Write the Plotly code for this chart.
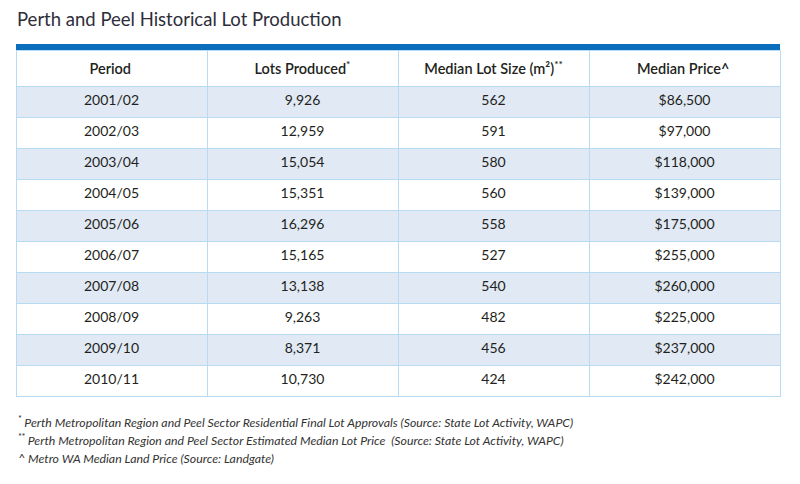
import plotly.graph_objects as go

# table data
periods = ["2001/02", "2002/03", "2003/04", "2004/05", "2005/06",
           "2006/07", "2007/08", "2008/09", "2009/10", "2010/11"]
lots_produced = [9926, 12959, 15054, 15351, 16296, 15165, 13138, 9263, 8371, 10730]
median_lot_size = [562, 591, 580, 560, 558, 527, 540, 482, 456, 424]
median_price = [86500, 97000, 118000, 139000, 175000, 255000, 260000, 225000, 237000, 242000]

# the empty <sup> keeps every header on the same baseline
headers = ["Period<sup>\u00a0</sup>", "Lots Produced<sup>*</sup>",
           "Median Lot Size (m²)<sup>**</sup>", "Median Price^<sup>\u00a0</sup>"]

footnotes = [
    "<sup>*</sup> Perth Metropolitan Region and Peel Sector Residential Final Lot Approvals (Source: State Lot Activity, WAPC)",
    "<sup>**</sup> Perth Metropolitan Region and Peel Sector Estimated Median Lot Price  (Source: State Lot Activity, WAPC)",
    "^ Metro WA Median Land Price (Source: Landgate)",
]

W, H = 800, 484
fnt = "Lato, Open Sans, sans-serif"
txt_col = "#231f20"
line_col = "#b8daf2"

row_fill = ["#e1e9f5" if i % 2 == 0 else "#ffffff" for i in range(len(periods))]

fig = go.Figure(go.Table(
    domain=dict(x=[16 / W, 780 / W], y=[1 - 400 / H, 1 - 50 / H]),
    columnwidth=[1, 1, 1, 1],
    header=dict(
        values=headers,
        fill_color="white",
        line=dict(color=line_col, width=1),
        align="center",
        height=36,
        font=dict(family=fnt, size=14.5, color=txt_col, weight=600),
    ),
    cells=dict(
        values=[
            periods,
            [f"{v:,}" for v in lots_produced],
            [str(v) for v in median_lot_size],
            [f"${v:,}" for v in median_price],
        ],
        fill_color=[row_fill] * 4,
        line=dict(color=line_col, width=1),
        align="center",
        height=31,
        font=dict(family=fnt, size=14, color=txt_col),
    ),
))

# blue band above the header
fig.add_shape(type="rect", xref="paper", yref="paper",
              x0=16 / W, x1=780 / W, y0=1 - 50 / H, y1=1 - 44 / H,
              fillcolor="#0a6ebd", line=dict(width=0))

fig.add_annotation(text="Perth and Peel Historical Lot Production",
                   xref="paper", yref="paper", x=15 / W, y=1 - 19 / H,
                   xanchor="left", yanchor="middle", showarrow=False,
                   font=dict(family=fnt, size=18.5, color="#2e2e3a"))

for i, note in enumerate(footnotes):
    fig.add_annotation(text=f"<i>{note}</i>", xref="paper", yref="paper",
                       x=16 / W, y=1 - (422 + 18 * i) / H,
                       xanchor="left", yanchor="middle", showarrow=False,
                       font=dict(family=fnt, size=12.3, color="#333333"))

fig.update_layout(width=W, height=H, margin=dict(l=0, r=0, t=0, b=0),
                  paper_bgcolor="white", plot_bgcolor="white")

fig.write_html("out.html", config={"displayModeBar": False},
               post_script="document.body.style.margin='0';")
